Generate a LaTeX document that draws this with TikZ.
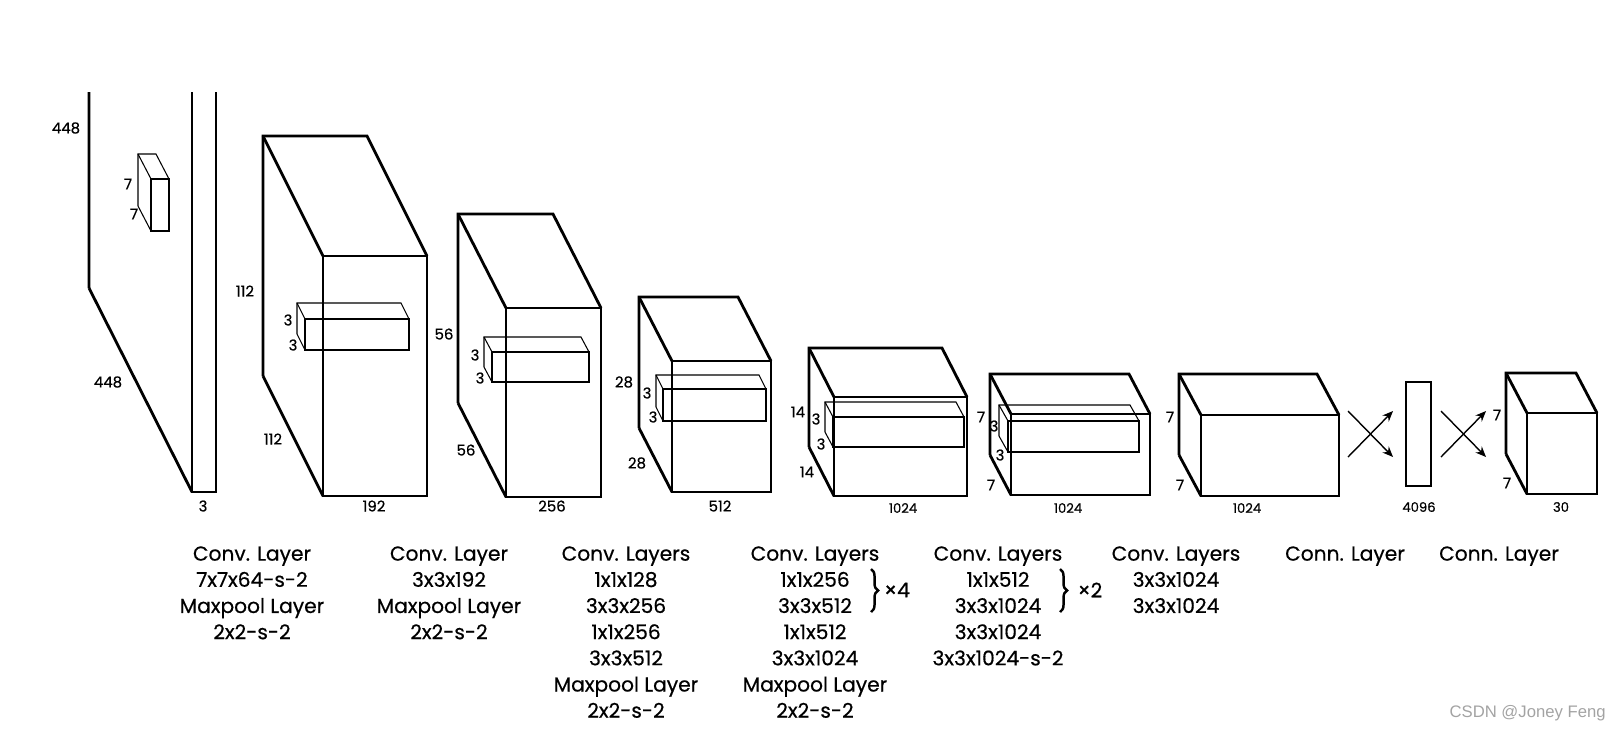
\documentclass[tikz,border=0pt]{standalone}
\usepackage{fontspec}
\setmainfont{Poppins}[FakeBold=0.5]
\newfontfamily\wmfont{Liberation Sans}
\usetikzlibrary{arrows.meta,decorations.pathreplacing}
\definecolor{ink}{HTML}{000000}
\definecolor{wmg}{HTML}{A3A3A3}
\tikzset{
  cube/.style={draw=ink,line width=1.6pt},
  kern/.style={draw=ink,line width=.6pt},
  dim/.style ={font=\fontsize{8.5}{9}\selectfont,text=ink,inner sep=0pt},
  dims/.style={font=\fontsize{7.5}{8}\selectfont,text=ink,inner sep=0pt},
  capt/.style={font=\fontsize{11.5}{14.9}\selectfont,align=center,anchor=north,inner sep=0pt},
  arr/.style ={-{Stealth[length=6pt,width=5pt]},line width=.8pt,ink},
  brc/.style ={decorate,decoration={brace,amplitude=4pt},line width=1.4pt,ink},
}
% back corner x, y, width, height, depth dx, dy
\newcommand{\blk}[7]{%
  \draw[#7] (#1+#5,#2+#6) rectangle ++(#3,#4);
  \draw[#7] (#1,#2+#4) -- (#1,#2) -- ++(#3,0) -- ++(#5,#6);
  \draw[#7] (#1,#2) -- ++(#5,#6);
  \draw[#7] (#1,#2+#4) -- ++(#5,#6);}

\begin{document}
\begin{tikzpicture}[x=0.02cm,y=-0.02cm]
\useasboundingbox (0,0) rectangle (1613,731);
% input image (top cut off)
\begin{scope}
  \clip (0,92) rectangle (1613,731);
  \blk{89}{-116}{24}{404}{103}{204}{cube}
\end{scope}
\blk{138}{154}{18}{52}{13}{25}{kern}
\node[dim] (d1h) at (66,128) {448};
\node[dim] (d1kh) at (128,184) {7};
\node[dim] (d1kw) at (134,214) {7};
\node[dim] (d1w) at (108,382) {448};
\node[dim] (d1c) at (203,506) {3};
% 112 x 112 x 192
\blk{263}{136}{104}{240}{60}{120}{cube}
\blk{297}{303}{104}{31}{8}{16}{kern}
\node[dim] (d2h) at (245,291) {112};
\node[dim] (d2kh) at (288,320) {3};
\node[dim] (d2kw) at (293,345) {3};
\node[dim] (d2w) at (273,439) {112};
\node[dim] (d2c) at (374,506) {192};
% 56 x 56 x 256
\blk{458}{214}{95}{189}{48}{94}{cube}
\blk{484}{337}{97}{30}{8}{15}{kern}
\node[dim] (d3h) at (444,334) {56};
\node[dim] (d3kh) at (475,355) {3};
\node[dim] (d3kw) at (480,378) {3};
\node[dim] (d3w) at (466,450) {56};
\node[dim] (d3c) at (552,506) {256};
% 28 x 28 x 512
\blk{639}{297}{99}{131}{33}{64}{cube}
\blk{656}{375}{103}{32}{7}{14}{kern}
\node[dim] (d4h) at (624,382) {28};
\node[dim] (d4kh) at (647,393) {3};
\node[dim] (d4kw) at (653,417) {3};
\node[dim] (d4w) at (637,463) {28};
\node[dim] (d4c) at (720,506) {512};
% 14 x 14 x 1024
\blk{809}{348}{133}{99}{25}{49}{cube}
\blk{825}{402}{131}{30}{8}{15}{kern}
\node[dim] (d5h) at (798,412) {14};
\node[dim] (d5kh) at (816,419) {3};
\node[dim] (d5kw) at (821,444) {3};
\node[dim] (d5w) at (807,472) {14};
\node[dims] (d5c) at (903,508) {1024};
% 7 x 7 x 1024
\blk{990}{374}{139}{81}{21}{40}{cube}
\blk{999}{405}{131}{31}{9}{16}{kern}
\node[dim] (d6h) at (981,417) {7};
\node[dim] (d6kh) at (994,426) {3};
\node[dim] (d6kw) at (1000,455) {3};
\node[dim] (d6w) at (991,485) {7};
\node[dims] (d6c) at (1068,508) {1024};
% 7 x 7 x 1024
\blk{1179}{374}{138}{81}{22}{41}{cube}
\node[dim] (d7h) at (1170,417) {7};
\node[dim] (d7w) at (1180,485) {7};
\node[dims] (d7c) at (1247,508) {1024};
% fully connected
\coordinate (x1a) at (1348,457); \coordinate (x1b) at (1393,411);
\coordinate (x1c) at (1348,411); \coordinate (x1d) at (1393,457);
\draw[arr] (x1a) -- (x1b); \draw[arr] (x1c) -- (x1d);
\draw[cube] (1406,382) rectangle (1431,486);
\node[dims] (dfc) at (1419,507) {4096};
\coordinate (x2a) at (1441,457); \coordinate (x2b) at (1486,411);
\coordinate (x2c) at (1441,411); \coordinate (x2d) at (1486,457);
\draw[arr] (x2a) -- (x2b); \draw[arr] (x2c) -- (x2d);
% output 7 x 7 x 30
\blk{1506}{373}{70}{81}{21}{40}{cube}
\node[dim] (d8h) at (1497,415) {7};
\node[dim] (d8w) at (1507,483) {7};
\node[dims] (d8c) at (1561,507) {30};
% captions
\node[capt] (c1) at (252,546) {Conv. Layer\\7x7x64-s-2\\Maxpool Layer\\2x2-s-2};
\node[capt] (c2) at (449,546) {Conv. Layer\\3x3x192\\Maxpool Layer\\2x2-s-2};
\node[capt] (c3) at (626,546) {Conv. Layers\\1x1x128\\3x3x256\\1x1x256\\3x3x512\\Maxpool Layer\\2x2-s-2};
\node[capt] (c4) at (815,546) {Conv. Layers\\1x1x256\\3x3x512\\1x1x512\\3x3x1024\\Maxpool Layer\\2x2-s-2};
\node[capt] (c5) at (998,546) {Conv. Layers\\1x1x512\\3x3x1024\\3x3x1024\\3x3x1024-s-2};
\node[capt] (c6) at (1176,546) {Conv. Layers\\3x3x1024\\3x3x1024};
\node[capt] (c7) at (1345,546) {Conn. Layer};
\node[capt] (c8) at (1499,546) {Conn. Layer};
% repeat braces
\coordinate (b4t) at (871,569); \coordinate (b4b) at (871,612);
\draw[brc] (b4t) -- (b4b);
\node[capt,anchor=center] (r4) at (897,590) {×4};
\coordinate (b5t) at (1060,569); \coordinate (b5b) at (1060,612);
\draw[brc] (b5t) -- (b5b);
\node[capt,anchor=center] (r5) at (1090,590) {×2};
% watermark
\node[font=\wmfont\fontsize{9.5}{10}\selectfont,text=wmg,anchor=east,inner sep=0pt] (wmk) at (1606,713) {CSDN @Joney Feng};
\end{tikzpicture}
\end{document}
